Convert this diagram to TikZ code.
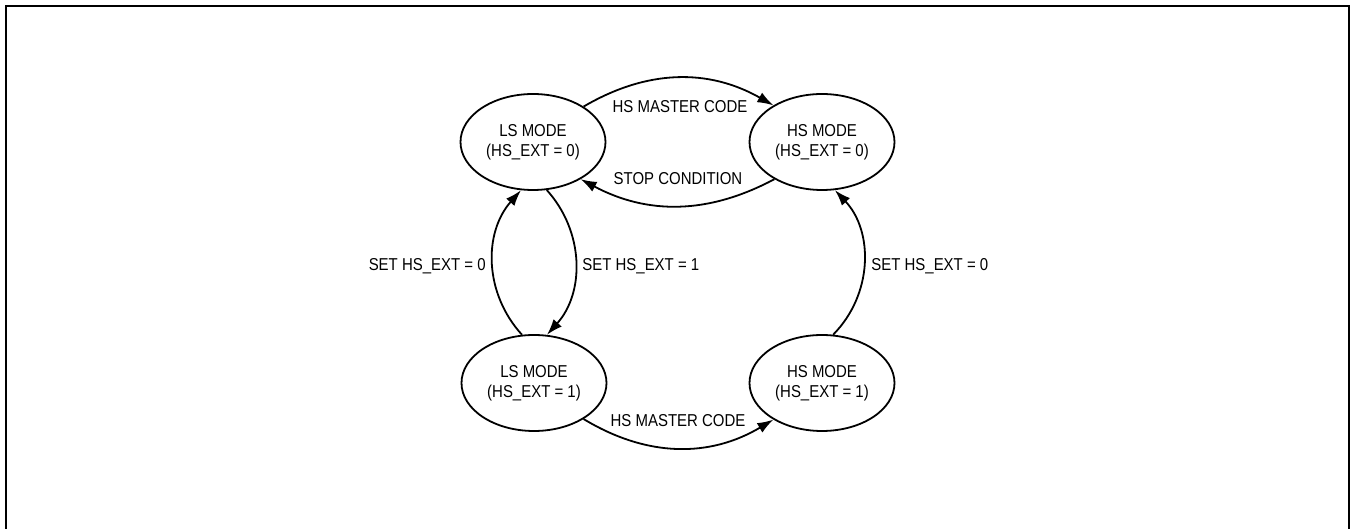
\documentclass[tikz,border=0pt]{standalone}
\usepackage{fontspec}
\setmainfont[FakeStretch=0.87]{Liberation Sans}
\usetikzlibrary{arrows.meta, shapes.geometric}

\begin{document}
\begin{tikzpicture}[x=0.5pt, y=-0.5pt, >={Latex[length=8pt,width=5.5pt]},
  state/.style={draw, line width=0.9pt, ellipse, minimum width=72.5pt, minimum height=48pt,
    inner sep=0pt, align=center, font=\fontsize{8.6}{10}\selectfont},
  lbl/.style={inner sep=0pt, font=\fontsize{8.6}{10}\selectfont},
  trans/.style={->, line width=0.9pt}]
  \useasboundingbox (0,0) rectangle (1351,529);
  \draw[line width=1.1pt] (6,529) -- (6,6) -- (1349,6) -- (1349,529);

  \node[state] (ls0) at (533,142) {LS MODE\\(HS\_EXT = 0)};
  \node[state] (hs0) at (822,142) {HS MODE\\(HS\_EXT = 0)};
  \node[state] (ls1) at (534,383) {LS MODE\\(HS\_EXT = 1)};
  \node[state] (hs1) at (822,383) {HS MODE\\(HS\_EXT = 1)};

  \draw[trans] (ls0.35) to[bend left=30] (hs0.143);
  \draw[trans] (hs0.218) to[bend left=28] (ls0.322);
  \draw[trans] (ls1.104) to[bend left=42] (ls0.256);
  \draw[trans] (ls0.286) to[bend left=42] (ls1.75);
  \draw[trans] (ls1.324) to[bend right=31] (hs1.217);
  \draw[trans] (hs1.77) to[bend right=44] (hs0.285);

  \node[lbl, anchor=base] (mc0) at (680,113) {HS MASTER CODE};
  \node[lbl, anchor=base] (stop) at (678,185) {STOP CONDITION};
  \node[lbl, anchor=base east] (set0l) at (486,271) {SET HS\_EXT = 0};
  \node[lbl, anchor=base west] (set1) at (582,271) {SET HS\_EXT = 1};
  \node[lbl, anchor=base west] (set0r) at (871,271) {SET HS\_EXT = 0};
  \node[lbl, anchor=base] (mc1) at (678,427) {HS MASTER CODE};
\end{tikzpicture}
\end{document}
